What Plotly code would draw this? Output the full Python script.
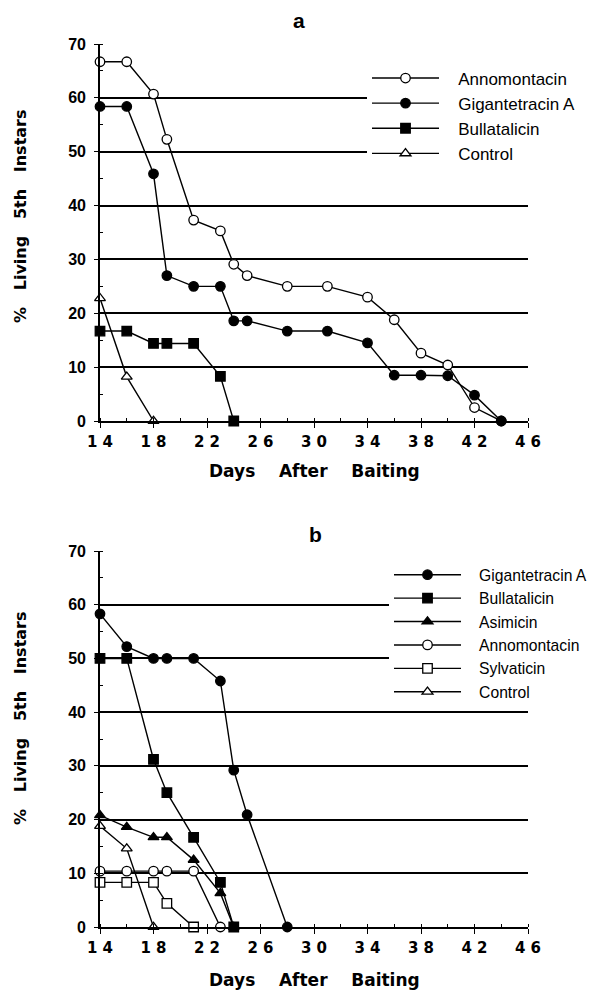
import plotly.graph_objects as go

# ---------------- data ----------------
# Panel a
days_a_anno = [14, 16, 18, 19, 21, 23, 24, 25, 28, 31, 34, 36, 38, 40, 42, 44]
pct_a_anno = [66.7, 66.7, 60.7, 52.3, 37.3, 35.3, 29.1, 27.0, 25.0, 25.0, 23.0, 18.8, 12.6, 10.4, 2.5, 0]
days_a_giga = [14, 16, 18, 19, 21, 23, 24, 25, 28, 31, 34, 36, 38, 40, 42, 44]
pct_a_giga = [58.4, 58.4, 45.9, 27.0, 25.0, 25.0, 18.6, 18.6, 16.7, 16.7, 14.5, 8.5, 8.5, 8.4, 4.8, 0]
days_a_bulla = [14, 16, 18, 19, 21, 23, 24]
pct_a_bulla = [16.7, 16.7, 14.4, 14.4, 14.4, 8.3, 0]
days_a_ctrl = [14, 16, 18]
pct_a_ctrl = [22.8, 8.2, 0]

# Panel b
days_b_giga = [14, 16, 18, 19, 21, 23, 24, 25, 28]
pct_b_giga = [58.3, 52.2, 50, 50, 50, 45.8, 29.2, 20.9, 0]
days_b_bulla = [14, 16, 18, 19, 21, 23, 24]
pct_b_bulla = [50, 50, 31.2, 25, 16.7, 8.3, 0]
days_b_asim = [14, 16, 18, 19, 21, 23, 24]
pct_b_asim = [20.8, 18.6, 16.7, 16.7, 12.5, 6.3, 0]
days_b_anno = [14, 16, 18, 19, 21, 23]
pct_b_anno = [10.4, 10.4, 10.4, 10.4, 10.4, 0]
days_b_sylv = [14, 16, 18, 19, 21]
pct_b_sylv = [8.3, 8.3, 8.3, 4.4, 0]
days_b_ctrl = [14, 16, 18]
pct_b_ctrl = [18.8, 14.6, 0]

x_tickvals = [14, 18, 22, 26, 30, 34, 38, 42, 46]
x_ticktext = ["1 4", "1 8", "2 2", "2 6", "3 0", "3 4", "3 8", "4 2", "4 6"]
y_tickvals = [0, 10, 20, 30, 40, 50, 60, 70]

panel_titles = ["a", "b"]
x_title = "Days\u00a0\u00a0\u00a0\u00a0After\u00a0\u00a0\u00a0\u00a0Baiting"
y_title = "%\u00a0\u00a0\u00a0Living\u00a0\u00a0\u00a05th\u00a0\u00a0\u00a0Instars"

# ---------------- figure ----------------
W, H = 602, 992
OFF = 8  # page body margin seen in the photographed page
fig = go.Figure()

def marker(symbol, filled):
    return dict(symbol=symbol, size=9.5,
                color="black" if filled else "white",
                line=dict(color="black", width=1.3))

line_style = dict(color="black", width=1.4)

series_a = [
    ("Annomontacin", days_a_anno, pct_a_anno, "circle", False),
    ("Gigantetracin A", days_a_giga, pct_a_giga, "circle", True),
    ("Bullatalicin", days_a_bulla, pct_a_bulla, "square", True),
    ("Control", days_a_ctrl, pct_a_ctrl, "triangle-up", False),
]
series_b = [
    ("Gigantetracin A", days_b_giga, pct_b_giga, "circle", True),
    ("Bullatalicin", days_b_bulla, pct_b_bulla, "square", True),
    ("Asimicin", days_b_asim, pct_b_asim, "triangle-up", True),
    ("Annomontacin", days_b_anno, pct_b_anno, "circle", False),
    ("Sylvaticin", days_b_sylv, pct_b_sylv, "square", False),
    ("Control", days_b_ctrl, pct_b_ctrl, "triangle-up", False),
]

PAD = "\u00a0\u00a0\u00a0"  # gap between legend symbol and label

for name, xs, ys, sym, filled in series_a:
    fig.add_trace(go.Scatter(x=xs, y=ys, name=PAD + name, mode="lines+markers",
                             line=line_style, marker=marker(sym, filled),
                             cliponaxis=False, xaxis="x", yaxis="y",
                             legend="legend"))
for name, xs, ys, sym, filled in series_b:
    fig.add_trace(go.Scatter(x=xs, y=ys, name=PAD + name, mode="lines+markers",
                             line=line_style, marker=marker(sym, filled),
                             cliponaxis=False, xaxis="x2", yaxis="y2",
                             legend="legend2"))

def px_x(p):
    return (p - OFF) / W

def px_y(p):
    return 1 - (p - OFF) / H

tick_font_x = dict(family="DejaVu Sans", size=15, color="black", weight="bold")
tick_font_y = dict(family="Liberation Sans", size=16, color="black", weight="bold")

def xaxis_cfg(anchor):
    return dict(domain=[px_x(100), px_x(528)], range=[14, 46], anchor=anchor,
                tickmode="array", tickvals=x_tickvals, ticktext=x_ticktext,
                ticks="outside", ticklen=5, tickwidth=1.3, tickcolor="black",
                minor=dict(dtick=2, tick0=14, ticks="inside", ticklen=3,
                           tickwidth=1.2, tickcolor="black"),
                showline=True, linecolor="black", linewidth=1.6,
                showgrid=False, zeroline=False, tickfont=tick_font_x,
                ticklabelstandoff=1, automargin=False)

def yaxis_cfg(anchor, top, bottom):
    return dict(domain=[px_y(bottom), px_y(top)], range=[0, 70], anchor=anchor,
                tickmode="array", tickvals=y_tickvals,
                ticks="outside", ticklen=4, tickwidth=1.3, tickcolor="black",
                minor=dict(dtick=5, tick0=0, ticks="inside", ticklen=3,
                           tickwidth=1.2, tickcolor="black"),
                showline=True, linecolor="black", linewidth=1.6,
                showgrid=True, gridcolor="black", gridwidth=1.7,
                zeroline=False, tickfont=tick_font_y, ticklabelstandoff=5,
                automargin=False)

fig.update_layout(
    width=W, height=H,
    margin=dict(l=0, r=0, t=0, b=0, pad=0, autoexpand=False),
    paper_bgcolor="white", plot_bgcolor="white",
    showlegend=True,
    xaxis=xaxis_cfg("y"),
    yaxis=yaxis_cfg("x", 44, 421),
    xaxis2=xaxis_cfg("y2"),
    yaxis2=yaxis_cfg("x2", 551, 927),
    legend=dict(x=px_x(367), y=px_y(60.5), xanchor="left", yanchor="top",
                bgcolor="white", borderwidth=0,
                font=dict(family="Liberation Sans", size=17, color="black"),
                itemwidth=67, traceorder="normal", tracegroupgap=0),
    legend2=dict(x=px_x(389), y=px_y(558), xanchor="left", yanchor="top",
                 bgcolor="white", borderwidth=0,
                 font=dict(family="Liberation Sans", size=15.7, color="black"),
                 itemwidth=67, traceorder="normal", tracegroupgap=0),
)

title_font = dict(family="Liberation Sans", size=21, color="black", weight="bold")
axis_title_font = dict(family="DejaVu Sans", size=17, color="black", weight="bold")
ytitle_font = dict(family="DejaVu Sans", size=16, color="black", weight="bold")

annotations = [
    dict(text=panel_titles[0], x=px_x(299), y=px_y(21), xref="paper", yref="paper",
         showarrow=False, font=title_font, xanchor="center", yanchor="middle"),
    dict(text=panel_titles[1], x=px_x(315), y=px_y(534), xref="paper", yref="paper",
         showarrow=False, font=title_font, xanchor="center", yanchor="middle"),
    dict(text=x_title, x=px_x(314), y=px_y(471), xref="paper", yref="paper",
         showarrow=False, font=axis_title_font, xanchor="center", yanchor="middle"),
    dict(text=x_title, x=px_x(314), y=px_y(980), xref="paper", yref="paper",
         showarrow=False, font=axis_title_font, xanchor="center", yanchor="middle"),
    dict(text=y_title, x=px_x(20), y=px_y(216), xref="paper", yref="paper",
         showarrow=False, font=ytitle_font, textangle=-90,
         xanchor="center", yanchor="middle"),
    dict(text=y_title, x=px_x(20), y=px_y(718), xref="paper", yref="paper",
         showarrow=False, font=ytitle_font, textangle=-90,
         xanchor="center", yanchor="middle"),
]
fig.update_layout(annotations=annotations)

fig.write_html("out.html")
